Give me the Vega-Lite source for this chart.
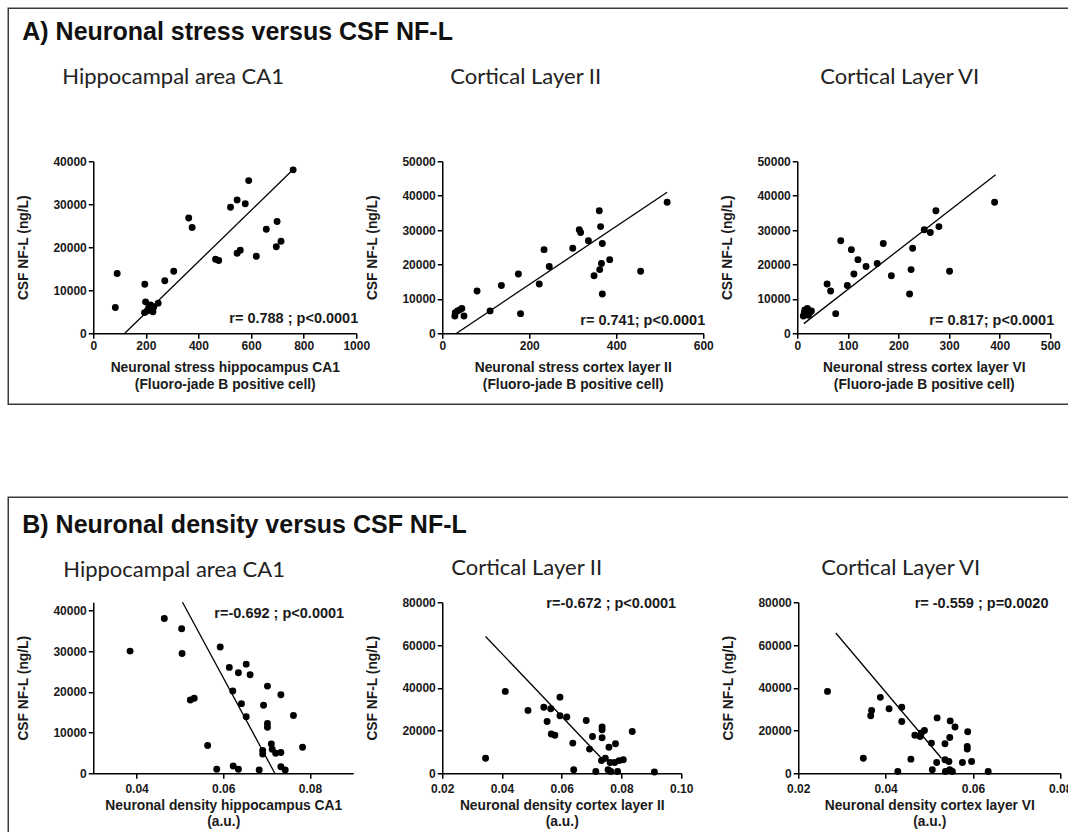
{
  "$schema": "https://vega.github.io/schema/vega-lite/v6.json",
  "background": "white",
  "padding": {"left": 7.25, "top": 7.25, "right": 0, "bottom": 0},
  "autosize": {"type": "pad"},
  "config": {
    "view": {"stroke": null},
    "axis": {
      "grid": false,
      "labelOverlap": false,
      "domainColor": "black",
      "domainWidth": 1.5,
      "tickColor": "black",
      "tickWidth": 1.5,
      "tickSize": 5,
      "labelFont": "Liberation Sans",
      "labelFontWeight": "bold",
      "labelFontSize": 12,
      "labelColor": "#1a1a1a",
      "labelPadding": 2,
      "titleFont": "Liberation Sans",
      "titleFontWeight": "bold",
      "titleFontSize": 13.8,
      "titleColor": "#1a1a1a"
    },
    "axisY": {"titlePadding": 22, "labelFlush": false},
    "axisX": {"titlePadding": 9.5, "labelFlush": false, "titleLineHeight": 16.5},
    "title": {"font": "Lato", "fontSize": 22, "fontWeight": "normal", "color": "#222", "anchor": "start", "frame": "group"},
    "circle": {"color": "black", "opacity": 1, "size": 48},
    "line": {"color": "black", "strokeWidth": 1.3},
    "text": {"font": "Liberation Sans", "fontWeight": "bold", "fontSize": 14.5, "color": "#1a1a1a"}
  },
  "datasets": {
    "a1": [
      {"x": 760, "y": 38000}, {"x": 591, "y": 35500}, {"x": 547, "y": 31000}, {"x": 522, "y": 29300},
      {"x": 578, "y": 30100}, {"x": 363, "y": 26800}, {"x": 376, "y": 24600}, {"x": 658, "y": 24200},
      {"x": 699, "y": 26000}, {"x": 696, "y": 20100}, {"x": 714, "y": 21400}, {"x": 465, "y": 17200},
      {"x": 477, "y": 16900}, {"x": 547, "y": 18600}, {"x": 559, "y": 19300}, {"x": 620, "y": 17900},
      {"x": 91, "y": 13900}, {"x": 306, "y": 14400}, {"x": 272, "y": 12200}, {"x": 196, "y": 11400},
      {"x": 84, "y": 6000}, {"x": 199, "y": 7300}, {"x": 218, "y": 6600}, {"x": 230, "y": 6100},
      {"x": 247, "y": 7000}, {"x": 205, "y": 5200}, {"x": 227, "y": 5000}, {"x": 195, "y": 4800},
      {"x": 211, "y": 6000}, {"x": 215, "y": 5600}
    ],
    "a1fit": [{"x": 120, "y": 0}, {"x": 762, "y": 38200}],
    "a2": [
      {"x": 517, "y": 38100}, {"x": 361, "y": 35600}, {"x": 364, "y": 31000}, {"x": 315, "y": 30100},
      {"x": 318, "y": 29300}, {"x": 336, "y": 26900}, {"x": 368, "y": 26100}, {"x": 300, "y": 24700},
      {"x": 234, "y": 24300}, {"x": 246, "y": 19400}, {"x": 366, "y": 20300}, {"x": 385, "y": 21400},
      {"x": 362, "y": 18500}, {"x": 349, "y": 16700}, {"x": 456, "y": 18000}, {"x": 175, "y": 17200},
      {"x": 223, "y": 14300}, {"x": 136, "y": 13900}, {"x": 80, "y": 12300}, {"x": 368, "y": 11400},
      {"x": 110, "y": 6500}, {"x": 180, "y": 5700}, {"x": 29, "y": 5000}, {"x": 30, "y": 6000},
      {"x": 35, "y": 6500}, {"x": 45, "y": 7200}, {"x": 50, "y": 5000}, {"x": 40, "y": 6800}
    ],
    "a2fit": [{"x": 33, "y": 0}, {"x": 517, "y": 41000}],
    "a3": [
      {"x": 390, "y": 38100}, {"x": 274, "y": 35600}, {"x": 280, "y": 31000}, {"x": 251, "y": 30100},
      {"x": 263, "y": 29300}, {"x": 86, "y": 26900}, {"x": 170, "y": 26100}, {"x": 228, "y": 24700},
      {"x": 107, "y": 24300}, {"x": 120, "y": 21400}, {"x": 158, "y": 20300}, {"x": 136, "y": 19400},
      {"x": 112, "y": 17200}, {"x": 186, "y": 16700}, {"x": 225, "y": 18500}, {"x": 301, "y": 18000},
      {"x": 59, "y": 14300}, {"x": 99, "y": 13900}, {"x": 66, "y": 12300}, {"x": 222, "y": 11400},
      {"x": 76, "y": 5700}, {"x": 12, "y": 5000}, {"x": 15, "y": 6800}, {"x": 20, "y": 7200},
      {"x": 25, "y": 6000}, {"x": 18, "y": 5500}, {"x": 28, "y": 6500}, {"x": 14, "y": 6000},
      {"x": 22, "y": 5200}
    ],
    "a3fit": [{"x": 13, "y": 2800}, {"x": 392, "y": 46100}],
    "b1": [
      {"x": 0.0464, "y": 38000}, {"x": 0.0504, "y": 35500}, {"x": 0.0505, "y": 29400}, {"x": 0.0385, "y": 30000},
      {"x": 0.0593, "y": 31000}, {"x": 0.0614, "y": 26000}, {"x": 0.0653, "y": 26800}, {"x": 0.0635, "y": 24700},
      {"x": 0.0662, "y": 24200}, {"x": 0.0702, "y": 21400}, {"x": 0.0622, "y": 20200}, {"x": 0.0733, "y": 19300},
      {"x": 0.0524, "y": 18000}, {"x": 0.0533, "y": 18400}, {"x": 0.0642, "y": 17100}, {"x": 0.0693, "y": 16700},
      {"x": 0.0653, "y": 13900}, {"x": 0.0762, "y": 14200}, {"x": 0.0702, "y": 12200}, {"x": 0.0702, "y": 11300},
      {"x": 0.0564, "y": 6800}, {"x": 0.0711, "y": 7200}, {"x": 0.0713, "y": 5900}, {"x": 0.0691, "y": 5600},
      {"x": 0.0691, "y": 4700}, {"x": 0.0721, "y": 4900}, {"x": 0.0733, "y": 5100}, {"x": 0.0783, "y": 6400},
      {"x": 0.0585, "y": 1000}, {"x": 0.0623, "y": 1800}, {"x": 0.0635, "y": 1000}, {"x": 0.0683, "y": 800},
      {"x": 0.0733, "y": 1600}, {"x": 0.0743, "y": 800}
    ],
    "b1fit": [{"x": 0.0506, "y": 42000}, {"x": 0.0719, "y": 0}],
    "b2": [
      {"x": 0.0345, "y": 7000}, {"x": 0.0411, "y": 38300}, {"x": 0.0487, "y": 29400}, {"x": 0.0540, "y": 30900},
      {"x": 0.0563, "y": 30200}, {"x": 0.0551, "y": 24200}, {"x": 0.0565, "y": 18400}, {"x": 0.0577, "y": 17800},
      {"x": 0.0594, "y": 35600}, {"x": 0.0594, "y": 26900}, {"x": 0.0617, "y": 26300}, {"x": 0.0637, "y": 14100},
      {"x": 0.0682, "y": 24700}, {"x": 0.0703, "y": 17200}, {"x": 0.0693, "y": 11300}, {"x": 0.0735, "y": 21600},
      {"x": 0.0735, "y": 20300}, {"x": 0.0735, "y": 16600}, {"x": 0.0836, "y": 19500}, {"x": 0.0758, "y": 12200},
      {"x": 0.0780, "y": 13800}, {"x": 0.0733, "y": 5900}, {"x": 0.0746, "y": 7000}, {"x": 0.0762, "y": 5000},
      {"x": 0.0777, "y": 5000}, {"x": 0.0792, "y": 5900}, {"x": 0.0806, "y": 6300}, {"x": 0.0640, "y": 1600},
      {"x": 0.0714, "y": 800}, {"x": 0.0755, "y": 1600}, {"x": 0.0764, "y": 800}, {"x": 0.0787, "y": 800},
      {"x": 0.0910, "y": 600}
    ],
    "b2fit": [{"x": 0.0345, "y": 64000}, {"x": 0.0733, "y": 7000}],
    "b3": [
      {"x": 0.0267, "y": 38300}, {"x": 0.0349, "y": 7000}, {"x": 0.0368, "y": 29400}, {"x": 0.0366, "y": 26900},
      {"x": 0.0388, "y": 35500}, {"x": 0.0408, "y": 30200}, {"x": 0.0437, "y": 30900}, {"x": 0.0437, "y": 24200},
      {"x": 0.0428, "y": 800}, {"x": 0.0458, "y": 6600}, {"x": 0.0467, "y": 17800}, {"x": 0.0479, "y": 17200},
      {"x": 0.0489, "y": 20000}, {"x": 0.0482, "y": 18800}, {"x": 0.0505, "y": 14100}, {"x": 0.0507, "y": 1600},
      {"x": 0.0517, "y": 5000}, {"x": 0.0518, "y": 25900}, {"x": 0.0536, "y": 13800}, {"x": 0.0548, "y": 24500},
      {"x": 0.0547, "y": 16700}, {"x": 0.0559, "y": 21600}, {"x": 0.0536, "y": 6300}, {"x": 0.0545, "y": 5500},
      {"x": 0.0537, "y": 800}, {"x": 0.0547, "y": 1600}, {"x": 0.0553, "y": 800}, {"x": 0.0576, "y": 5000},
      {"x": 0.0588, "y": 19400}, {"x": 0.0587, "y": 12500}, {"x": 0.0587, "y": 11300}, {"x": 0.0597, "y": 5500},
      {"x": 0.0635, "y": 800}
    ],
    "b3fit": [{"x": 0.0286, "y": 65600}, {"x": 0.0528, "y": 7000}]
  },
  "vconcat": [
    {
      "bounds": "flush",
      "spacing": 85,
      "hconcat": [
        {"hconcat": [
          {"data": {"values": []}, "mark": "point", "width": 1064, "height": 396, "view": {"stroke": "#3a3a3a", "strokeWidth": 1.5, "fill": null}}
        ]},
        {
          "bounds": "flush",
          "spacing": 152,
          "vconcat": [
            {"data": {"values": []}, "mark": "point", "width": 1, "height": 1},
            {
              "title": {"text": "A) Neuronal stress versus CSF NF-L", "font": "Liberation Sans Narrow, Liberation Sans", "fontWeight": "bold", "fontSize": 25, "color": "#111", "anchor": "start", "frame": "group", "dx": -71, "offset": 21},
              "bounds": "flush",
              "spacing": 86,
              "hconcat": [
                {
                  "width": 263, "height": 172,
                  "title": {"text": "Hippocampal area CA1", "dx": -31, "offset": 66},
                  "layer": [
                    {"data": {"name": "a1"}, "mark": {"type": "circle"},
                     "encoding": {
                       "x": {"field": "x", "type": "quantitative", "scale": {"domain": [0, 1000], "nice": false}, "axis": {"values": [0, 200, 400, 600, 800, 1000], "labelOverlap": false, "format": "d", "title": ["Neuronal stress hippocampus CA1", "(Fluoro-jade B positive cell)"]}},
                       "y": {"field": "y", "type": "quantitative", "scale": {"domain": [0, 40000], "nice": false}, "axis": {"values": [0, 10000, 20000, 30000, 40000], "labelOverlap": false, "format": "d", "title": "CSF NF-L (ng/L)"}}
                     }},
                    {"data": {"name": "a1fit"}, "mark": {"type": "line"}, "encoding": {
                       "x": {"field": "x", "type": "quantitative", "axis": {"values": [0, 200, 400, 600, 800, 1000], "labelOverlap": false, "format": "d", "title": ["Neuronal stress hippocampus CA1", "(Fluoro-jade B positive cell)"]}},
                       "y": {"field": "y", "type": "quantitative", "axis": {"values": [0, 10000, 20000, 30000, 40000], "labelOverlap": false, "format": "d", "title": "CSF NF-L (ng/L)"}}}},
                    {"data": {"values": [{}]}, "mark": {"type": "text", "text": "r= 0.788 ; p<0.0001", "align": "right", "baseline": "middle", "dx": 2}, "encoding": {
                       "x": {"datum": 1000, "type": "quantitative", "axis": {"values": [0, 200, 400, 600, 800, 1000], "labelOverlap": false, "format": "d", "title": ["Neuronal stress hippocampus CA1", "(Fluoro-jade B positive cell)"]}},
                       "y": {"datum": 3300, "type": "quantitative", "axis": {"values": [0, 10000, 20000, 30000, 40000], "labelOverlap": false, "format": "d", "title": "CSF NF-L (ng/L)"}}}}
                  ]
                },
                {
                  "bounds": "flush",
                  "spacing": 94,
                  "hconcat": [
                    {
                      "width": 261, "height": 172,
                      "title": {"text": "Cortical Layer II", "dx": 8, "offset": 66},
                      "layer": [
                        {"data": {"name": "a2"}, "mark": {"type": "circle"},
                         "encoding": {
                           "x": {"field": "x", "type": "quantitative", "scale": {"domain": [0, 600], "nice": false}, "axis": {"values": [0, 200, 400, 600], "labelOverlap": false, "format": "d", "title": ["Neuronal stress cortex layer II", "(Fluoro-jade B positive cell)"]}},
                           "y": {"field": "y", "type": "quantitative", "scale": {"domain": [0, 50000], "nice": false}, "axis": {"values": [0, 10000, 20000, 30000, 40000, 50000], "labelOverlap": false, "format": "d", "title": "CSF NF-L (ng/L)"}}
                         }},
                        {"data": {"name": "a2fit"}, "mark": {"type": "line"}, "encoding": {
                           "x": {"field": "x", "type": "quantitative", "axis": {"values": [0, 200, 400, 600], "labelOverlap": false, "format": "d", "title": ["Neuronal stress cortex layer II", "(Fluoro-jade B positive cell)"]}},
                           "y": {"field": "y", "type": "quantitative", "axis": {"values": [0, 10000, 20000, 30000, 40000, 50000], "labelOverlap": false, "format": "d", "title": "CSF NF-L (ng/L)"}}}},
                        {"data": {"values": [{}]}, "mark": {"type": "text", "text": "r= 0.741; p<0.0001", "align": "right", "baseline": "middle", "dx": 2}, "encoding": {
                           "x": {"datum": 600, "type": "quantitative", "axis": {"values": [0, 200, 400, 600], "labelOverlap": false, "format": "d", "title": ["Neuronal stress cortex layer II", "(Fluoro-jade B positive cell)"]}},
                           "y": {"datum": 3500, "type": "quantitative", "axis": {"values": [0, 10000, 20000, 30000, 40000, 50000], "labelOverlap": false, "format": "d", "title": "CSF NF-L (ng/L)"}}}}
                      ]
                    },
                    {
                      "width": 253, "height": 172,
                      "title": {"text": "Cortical Layer VI", "dx": 23, "offset": 66},
                      "layer": [
                        {"data": {"name": "a3"}, "mark": {"type": "circle"},
                         "encoding": {
                           "x": {"field": "x", "type": "quantitative", "scale": {"domain": [0, 500], "nice": false}, "axis": {"values": [0, 100, 200, 300, 400, 500], "labelOverlap": false, "format": "d", "title": ["Neuronal stress cortex layer VI", "(Fluoro-jade B positive cell)"]}},
                           "y": {"field": "y", "type": "quantitative", "scale": {"domain": [0, 50000], "nice": false}, "axis": {"values": [0, 10000, 20000, 30000, 40000, 50000], "labelOverlap": false, "format": "d", "title": "CSF NF-L (ng/L)"}}
                         }},
                        {"data": {"name": "a3fit"}, "mark": {"type": "line"}, "encoding": {
                           "x": {"field": "x", "type": "quantitative", "axis": {"values": [0, 100, 200, 300, 400, 500], "labelOverlap": false, "format": "d", "title": ["Neuronal stress cortex layer VI", "(Fluoro-jade B positive cell)"]}},
                           "y": {"field": "y", "type": "quantitative", "axis": {"values": [0, 10000, 20000, 30000, 40000, 50000], "labelOverlap": false, "format": "d", "title": "CSF NF-L (ng/L)"}}}},
                        {"data": {"values": [{}]}, "mark": {"type": "text", "text": "r= 0.817; p<0.0001", "align": "right", "baseline": "middle", "dx": 4}, "encoding": {
                           "x": {"datum": 500, "type": "quantitative", "axis": {"values": [0, 100, 200, 300, 400, 500], "labelOverlap": false, "format": "d", "title": ["Neuronal stress cortex layer VI", "(Fluoro-jade B positive cell)"]}},
                           "y": {"datum": 3500, "type": "quantitative", "axis": {"values": [0, 10000, 20000, 30000, 40000, 50000], "labelOverlap": false, "format": "d", "title": "CSF NF-L (ng/L)"}}}}
                      ]
                    }
                  ]
                }
              ]
            }
          ]
        }
      ]
    },
    {
      "bounds": "flush",
      "spacing": 85,
      "hconcat": [
        {"hconcat": [
          {"data": {"values": []}, "mark": "point", "width": 1064, "height": 345, "view": {"stroke": "#3a3a3a", "strokeWidth": 1.5, "fill": null}}
        ]},
        {
          "bounds": "flush",
          "spacing": 104,
          "vconcat": [
            {"data": {"values": []}, "mark": "point", "width": 1, "height": 1},
            {
              "title": {"text": "B) Neuronal density versus CSF NF-L", "font": "Liberation Sans Narrow, Liberation Sans", "fontWeight": "bold", "fontSize": 25, "color": "#111", "anchor": "start", "frame": "group", "dx": -71, "offset": 19},
              "bounds": "flush",
              "spacing": 89,
              "hconcat": [
                {
                  "width": 260, "height": 171,
                  "title": {"text": "Hippocampal area CA1", "dx": -30, "offset": 18},
                  "layer": [
                    {"data": {"name": "b1"}, "mark": {"type": "circle"},
                     "encoding": {
                       "x": {"field": "x", "type": "quantitative", "scale": {"domain": [0.03, 0.09], "nice": false, "zero": false}, "axis": {"values": [0.04, 0.06, 0.08], "labelOverlap": false, "format": ".2f", "labelPadding": 5.5, "titlePadding": 3.5, "title": ["Neuronal density hippocampus CA1", "(a.u.)"]}},
                       "y": {"field": "y", "type": "quantitative", "scale": {"domain": [0, 42000], "nice": false}, "axis": {"values": [0, 10000, 20000, 30000, 40000], "labelOverlap": false, "format": "d", "title": "CSF NF-L (ng/L)"}}
                     }},
                    {"data": {"name": "b1fit"}, "mark": {"type": "line"}, "encoding": {
                       "x": {"field": "x", "type": "quantitative", "axis": {"values": [0.04, 0.06, 0.08], "labelOverlap": false, "format": ".2f", "labelPadding": 5.5, "titlePadding": 3.5, "title": ["Neuronal density hippocampus CA1", "(a.u.)"]}},
                       "y": {"field": "y", "type": "quantitative", "axis": {"values": [0, 10000, 20000, 30000, 40000], "labelOverlap": false, "format": "d", "title": "CSF NF-L (ng/L)"}}}},
                    {"data": {"values": [{}]}, "mark": {"type": "text", "text": "r=-0.692 ; p<0.0001", "align": "right", "baseline": "middle"}, "encoding": {
                       "x": {"datum": 0.0879, "type": "quantitative", "axis": {"values": [0.04, 0.06, 0.08], "labelOverlap": false, "format": ".2f", "labelPadding": 5.5, "titlePadding": 3.5, "title": ["Neuronal density hippocampus CA1", "(a.u.)"]}},
                       "y": {"datum": 39000, "type": "quantitative", "axis": {"values": [0, 10000, 20000, 30000, 40000], "labelOverlap": false, "format": "d", "title": "CSF NF-L (ng/L)"}}}}
                  ]
                },
                {
                  "bounds": "flush",
                  "spacing": 117,
                  "hconcat": [
                    {
                      "width": 239, "height": 171,
                      "title": {"text": "Cortical Layer II", "dx": 9, "offset": 16},
                      "layer": [
                        {"data": {"name": "b2"}, "mark": {"type": "circle"},
                         "encoding": {
                           "x": {"field": "x", "type": "quantitative", "scale": {"domain": [0.02, 0.10], "nice": false, "zero": false}, "axis": {"values": [0.02, 0.04, 0.06, 0.08, 0.10], "labelOverlap": false, "format": ".2f", "labelPadding": 5.5, "titlePadding": 3.5, "title": ["Neuronal density cortex layer II", "(a.u.)"]}},
                           "y": {"field": "y", "type": "quantitative", "scale": {"domain": [0, 80000], "nice": false}, "axis": {"values": [0, 20000, 40000, 60000, 80000], "labelOverlap": false, "format": "d", "title": "CSF NF-L (ng/L)"}}
                         }},
                        {"data": {"name": "b2fit"}, "mark": {"type": "line"}, "encoding": {
                           "x": {"field": "x", "type": "quantitative", "axis": {"values": [0.02, 0.04, 0.06, 0.08, 0.10], "labelOverlap": false, "format": ".2f", "labelPadding": 5.5, "titlePadding": 3.5, "title": ["Neuronal density cortex layer II", "(a.u.)"]}},
                           "y": {"field": "y", "type": "quantitative", "axis": {"values": [0, 20000, 40000, 60000, 80000], "labelOverlap": false, "format": "d", "title": "CSF NF-L (ng/L)"}}}},
                        {"data": {"values": [{}]}, "mark": {"type": "text", "text": "r=-0.672 ; p<0.0001", "align": "right", "baseline": "middle"}, "encoding": {
                           "x": {"datum": 0.0983, "type": "quantitative", "axis": {"values": [0.02, 0.04, 0.06, 0.08, 0.10], "labelOverlap": false, "format": ".2f", "labelPadding": 5.5, "titlePadding": 3.5, "title": ["Neuronal density cortex layer II", "(a.u.)"]}},
                           "y": {"datum": 79000, "type": "quantitative", "axis": {"values": [0, 20000, 40000, 60000, 80000], "labelOverlap": false, "format": "d", "title": "CSF NF-L (ng/L)"}}}}
                      ]
                    },
                    {
                      "width": 262, "height": 171,
                      "title": {"text": "Cortical Layer VI", "dx": 23, "offset": 16},
                      "layer": [
                        {"data": {"name": "b3"}, "mark": {"type": "circle"},
                         "encoding": {
                           "x": {"field": "x", "type": "quantitative", "scale": {"domain": [0.02, 0.08], "nice": false, "zero": false}, "axis": {"values": [0.02, 0.04, 0.06, 0.08], "labelOverlap": false, "format": ".2f", "labelPadding": 5.5, "titlePadding": 3.5, "title": ["Neuronal density cortex layer  VI", "(a.u.)"]}},
                           "y": {"field": "y", "type": "quantitative", "scale": {"domain": [0, 80000], "nice": false}, "axis": {"values": [0, 20000, 40000, 60000, 80000], "labelOverlap": false, "format": "d", "title": "CSF NF-L (ng/L)"}}
                         }},
                        {"data": {"name": "b3fit"}, "mark": {"type": "line"}, "encoding": {
                           "x": {"field": "x", "type": "quantitative", "axis": {"values": [0.02, 0.04, 0.06, 0.08], "labelOverlap": false, "format": ".2f", "labelPadding": 5.5, "titlePadding": 3.5, "title": ["Neuronal density cortex layer  VI", "(a.u.)"]}},
                           "y": {"field": "y", "type": "quantitative", "axis": {"values": [0, 20000, 40000, 60000, 80000], "labelOverlap": false, "format": "d", "title": "CSF NF-L (ng/L)"}}}},
                        {"data": {"values": [{}]}, "mark": {"type": "text", "text": "r= -0.559 ; p=0.0020", "align": "right", "baseline": "middle"}, "encoding": {
                           "x": {"datum": 0.0773, "type": "quantitative", "axis": {"values": [0.02, 0.04, 0.06, 0.08], "labelOverlap": false, "format": ".2f", "labelPadding": 5.5, "titlePadding": 3.5, "title": ["Neuronal density cortex layer  VI", "(a.u.)"]}},
                           "y": {"datum": 79000, "type": "quantitative", "axis": {"values": [0, 20000, 40000, 60000, 80000], "labelOverlap": false, "format": "d", "title": "CSF NF-L (ng/L)"}}}}
                      ]
                    }
                  ]
                }
              ]
            }
          ]
        }
      ]
    }
  ],
  "bounds": "flush",
  "spacing": 489
}
